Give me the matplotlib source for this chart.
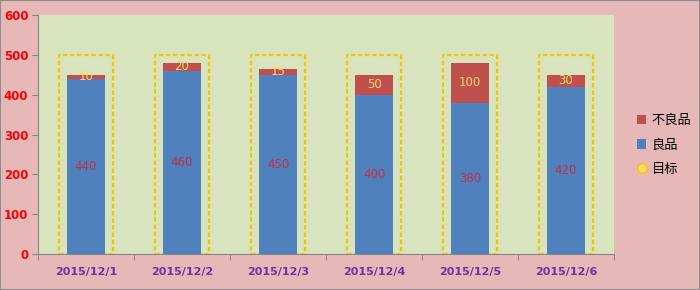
import matplotlib.pyplot as plt
from matplotlib.patches import Patch, Rectangle
from matplotlib.lines import Line2D
import numpy as np

plt.rcParams["font.family"] = ["DejaVu Sans", "Noto Sans CJK SC"]

dates = ["2015/12/1", "2015/12/2", "2015/12/3", "2015/12/4", "2015/12/5", "2015/12/6"]
good = [440, 460, 450, 400, 380, 420]
defect = [10, 20, 15, 50, 100, 30]
target = [500, 500, 500, 500, 500, 500]

fig = plt.figure(figsize=(7, 2.9), dpi=100, facecolor="#E6B9B8")
ax = fig.add_axes([38 / 700, 36 / 290, 576 / 700, 239 / 290])
ax.set_facecolor("#D7E4BD")
fig.patches.append(Rectangle((0, 0), 1, 1, transform=fig.transFigure, fill=False,
                             edgecolor="#8C8C8C", linewidth=1.5))

x = np.arange(len(dates))
ax.bar(x, target, width=0.56, fill=False, edgecolor="#F5C400", linestyle=(0, (2, 1.2)),
       linewidth=1.6, zorder=2)
ax.bar(x, good, width=0.4, color="#4F81BD", zorder=3)
ax.bar(x, defect, width=0.4, bottom=good, color="#C0504D", zorder=3)

for i in range(len(dates)):
    ax.text(x[i], good[i] / 2, str(good[i]), ha="center", va="center",
            color="#C0304D", fontsize=8.5, zorder=4)
    ax.text(x[i], good[i] + defect[i] / 2, str(defect[i]), ha="center", va="center",
            color="#FFD966", fontsize=8.5, zorder=4)

ax.set_xlim(-0.5, len(dates) - 0.5)
ax.set_ylim(0, 600)
ax.set_yticks(range(0, 601, 100))
ax.set_xticks(x)
ax.set_xticklabels(dates, color="#7030A0", fontweight="bold", fontsize=8)
ax.set_xticks(np.arange(-0.5, len(dates)), minor=True)
ax.tick_params(axis="x", which="major", length=0, pad=9)
ax.tick_params(axis="x", which="minor", length=4, color="#868686", direction="out")
ax.tick_params(axis="y", length=4, color="#868686", labelcolor="#FF0000", labelsize=8.5, pad=3)
for lab in ax.get_yticklabels():
    lab.set_fontweight("bold")
for side in ["top", "right"]:
    ax.spines[side].set_visible(False)
for side in ["left", "bottom"]:
    ax.spines[side].set_color("#868686")

handles = [
    Patch(facecolor="#C0504D", label="不良品"),
    Patch(facecolor="#4F81BD", label="良品"),
    Line2D([0], [0], marker="o", linestyle="none", markersize=7,
           markerfacecolor="#FFD966", markeredgecolor="#FFC000", label="目标"),
]
fig.legend(handles=handles, loc="center left", bbox_to_anchor=(0.893, 0.5), frameon=False,
           fontsize=9.5, handlelength=0.7, handleheight=0.7, handletextpad=0.4, labelspacing=0.85)

fig.savefig("out.png", dpi=100, facecolor=fig.get_facecolor())
